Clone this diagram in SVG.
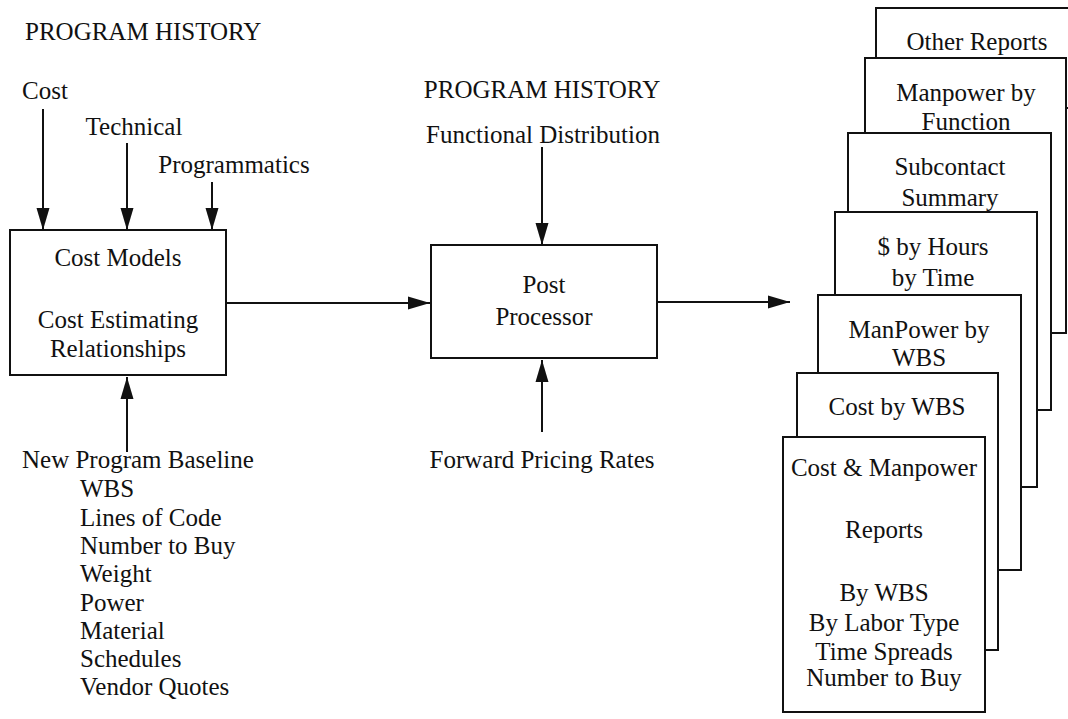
<svg xmlns="http://www.w3.org/2000/svg" width="1068" height="719" viewBox="0 0 1068 719">
  <style>
    text { font-family: "Liberation Serif", "Times New Roman", serif; font-size: 25px; fill: #111; }
    .c { text-anchor: middle; }
    .box { fill: #fff; stroke: #111; stroke-width: 2; }
    .wire { fill: none; stroke: #111; stroke-width: 2; }
  </style>
  <defs>
    <marker id="arrow" markerUnits="userSpaceOnUse" markerWidth="22" markerHeight="14" refX="22" refY="7" orient="auto">
      <path d="M0,0.5 L22,7 L0,13.5 z" fill="#111"/>
    </marker>
  </defs>
  <rect width="1068" height="719" fill="#fff"/>

  <!-- free labels -->
  <g id="labels">
    <text x="25" y="40">PROGRAM HISTORY</text>
    <text x="45" y="99" class="c">Cost</text>
    <text x="134" y="135" class="c">Technical</text>
    <text x="234" y="173" class="c">Programmatics</text>
    <text x="542" y="98" class="c">PROGRAM HISTORY</text>
    <text x="543" y="143" class="c">Functional Distribution</text>
    <text x="542" y="468" class="c">Forward Pricing Rates</text>
  </g>

  <g id="baseline-inputs">
    <text x="22" y="468">New Program Baseline</text>
    <text x="80" y="497">WBS</text>
    <text x="80" y="526">Lines of Code</text>
    <text x="80" y="554">Number to Buy</text>
    <text x="80" y="582">Weight</text>
    <text x="80" y="611">Power</text>
    <text x="80" y="639">Material</text>
    <text x="80" y="667">Schedules</text>
    <text x="80" y="695">Vendor Quotes</text>
  </g>

  <g id="cost-models">
    <rect class="box" x="10" y="230" width="216" height="145"/>
    <text x="118" y="266" class="c">Cost Models</text>
    <text x="118" y="328" class="c">Cost Estimating</text>
    <text x="118" y="357" class="c">Relationships</text>
  </g>

  <g id="post-processor">
    <rect class="box" x="431" y="245" width="226" height="113"/>
    <text x="544" y="293" class="c">Post</text>
    <text x="544" y="325" class="c">Processor</text>
  </g>

  <!-- report stack, drawn back to front -->
  <g id="report-other">
    <rect class="box" x="876" y="8" width="200" height="100"/>
    <text x="977" y="50" class="c">Other Reports</text>
  </g>
  <g id="report-manpower-function">
    <rect class="box" x="865" y="58" width="201" height="275"/>
    <text x="966" y="101" class="c">Manpower by</text>
    <text x="966" y="130" class="c">Function</text>
  </g>
  <g id="report-subcontract">
    <rect class="box" x="848" y="133" width="203" height="277"/>
    <text x="950" y="175" class="c">Subcontact</text>
    <text x="950" y="206" class="c">Summary</text>
  </g>
  <g id="report-dollars-hours">
    <rect class="box" x="835" y="212" width="202" height="275"/>
    <text x="933" y="255" class="c">$ by Hours</text>
    <text x="933" y="286" class="c">by Time</text>
  </g>
  <g id="report-manpower-wbs">
    <rect class="box" x="818" y="295" width="203" height="275"/>
    <text x="919" y="338" class="c">ManPower by</text>
    <text x="919" y="366" class="c">WBS</text>
  </g>
  <g id="report-cost-wbs">
    <rect class="box" x="797" y="373" width="201" height="277"/>
    <text x="897" y="415" class="c">Cost by WBS</text>
  </g>
  <g id="report-cost-manpower">
    <rect class="box" x="783" y="437" width="202" height="275"/>
    <text x="884" y="476" class="c">Cost &amp; Manpower</text>
    <text x="884" y="538" class="c">Reports</text>
    <text x="884" y="601" class="c">By WBS</text>
    <text x="884" y="631" class="c">By Labor Type</text>
    <text x="884" y="660" class="c">Time Spreads</text>
    <text x="884" y="686" class="c">Number to Buy</text>
  </g>

  <g id="connectors">
    <line class="wire" x1="43" y1="109" x2="43" y2="230" marker-end="url(#arrow)"/>
    <line class="wire" x1="127" y1="143" x2="127" y2="230" marker-end="url(#arrow)"/>
    <line class="wire" x1="212" y1="182" x2="212" y2="230" marker-end="url(#arrow)"/>
    <line class="wire" x1="127" y1="452" x2="127" y2="377" marker-end="url(#arrow)"/>
    <line class="wire" x1="226" y1="303" x2="430" y2="303" marker-end="url(#arrow)"/>
    <line class="wire" x1="542" y1="147" x2="542" y2="245" marker-end="url(#arrow)"/>
    <line class="wire" x1="542" y1="432" x2="542" y2="360" marker-end="url(#arrow)"/>
    <line class="wire" x1="657" y1="302" x2="790" y2="302" marker-end="url(#arrow)"/>
  </g>
</svg>
